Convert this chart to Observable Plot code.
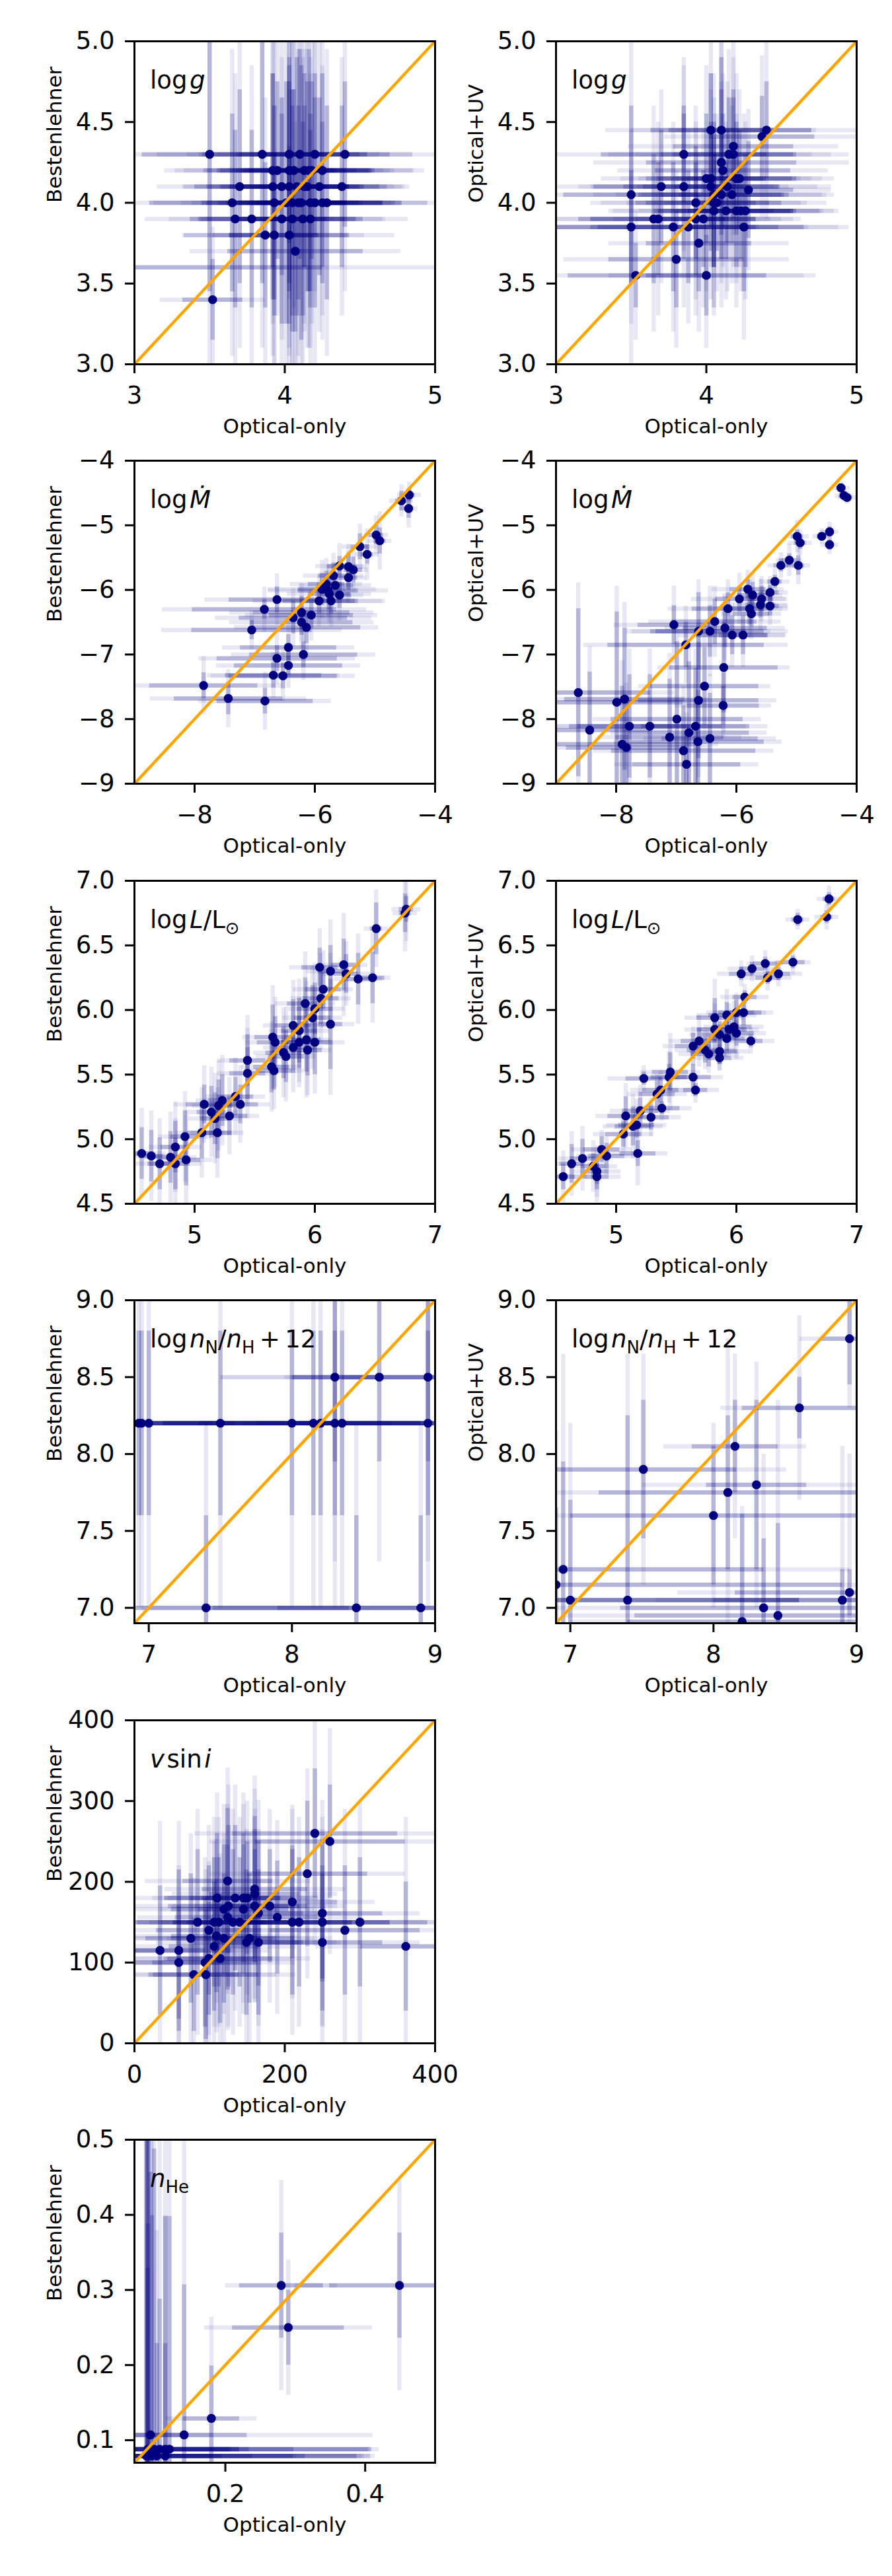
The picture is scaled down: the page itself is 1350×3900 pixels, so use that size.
<!DOCTYPE html>
<html><head><meta charset="utf-8">
<script src="https://cdn.jsdelivr.net/npm/d3@7"></script>
<script src="https://cdn.jsdelivr.net/npm/@observablehq/plot@0.6"></script>
<style>
body{margin:0;background:#fff;}
#fig{position:relative;width:1350px;height:3900px;background:#fff;font-family:"DejaVu Sans",sans-serif;}
#fig svg{position:absolute;overflow:visible;}
</style></head><body><div id="fig"></div>
<script>
// Each point: [x (Optical-only), y, xErrInner, xErrOuter, yErrInner, yErrOuter]
const loggBest = [
[3.50,4.30,0.45,0.80,0.85,1.30],[3.85,4.30,0.40,0.70,0.80,1.20],[4.03,4.30,0.35,0.60,0.55,0.90],
[4.10,4.30,0.40,0.75,0.65,1.00],[4.20,4.30,0.35,0.65,0.50,0.85],[4.40,4.30,0.30,0.60,0.45,0.85],
[3.92,4.20,0.35,0.65,0.60,0.95],[3.95,4.20,0.40,0.75,0.55,0.90],[4.03,4.20,0.30,0.55,0.70,1.10],
[4.06,4.20,0.35,0.60,0.50,0.85],[4.13,4.20,0.45,0.80,0.60,1.00],[4.16,4.20,0.40,0.70,0.75,1.10],
[4.18,4.20,0.30,0.55,0.55,0.95],[4.25,4.20,0.35,0.60,0.60,0.90],[3.70,4.10,0.30,0.55,0.60,1.00],
[3.92,4.10,0.35,0.60,0.70,1.05],[3.98,4.10,0.30,0.50,0.55,0.95],[4.03,4.10,0.40,0.70,0.65,1.05],
[4.08,4.10,0.35,0.60,0.80,1.15],[4.13,4.10,0.30,0.55,0.50,0.85],[4.15,4.10,0.35,0.65,0.65,1.00],
[4.23,4.10,0.30,0.55,0.55,0.90],[4.38,4.10,0.25,0.45,0.50,0.80],[3.65,4.00,0.55,0.85,0.55,0.95],
[3.93,4.00,0.45,0.80,0.60,1.00],[4.01,4.00,0.40,0.70,0.75,1.15],[4.05,4.00,0.35,0.60,0.70,1.10],
[4.09,4.00,0.40,0.65,0.60,0.95],[4.11,4.00,0.30,0.55,0.85,1.20],[4.17,4.00,0.35,0.60,0.55,0.90],
[4.20,4.00,0.45,0.75,0.65,1.05],[4.25,4.00,0.40,0.70,0.50,0.85],[4.28,4.00,0.50,0.90,0.60,0.95],
[3.67,3.90,0.30,0.60,0.55,0.90],[3.78,3.90,0.35,0.55,0.55,0.95],[3.98,3.90,0.30,0.50,0.65,1.00],
[4.05,3.90,0.35,0.60,0.70,1.10],[4.12,3.90,0.40,0.70,0.60,1.00],[4.17,3.90,0.30,0.50,0.55,0.90],
[3.87,3.80,0.35,0.55,0.45,0.85],[3.93,3.80,0.30,0.60,0.50,0.80],[4.03,3.80,0.40,0.70,0.55,0.90],
[4.07,3.70,0.45,0.70,0.50,0.80],[3.52,3.40,0.20,0.35,0.25,0.45],[2.75,3.60,1.50,2.40,0.30,0.60]
];
const loggUV = [
[4.03,4.45,0.40,0.70,0.35,0.60],[4.10,4.45,0.35,0.60,0.45,0.80],[4.40,4.45,0.30,0.60,0.30,0.55],
[4.37,4.41,0.35,0.65,0.25,0.50],[4.18,4.35,0.40,0.70,0.30,0.55],[3.85,4.30,0.55,0.85,0.30,0.60],
[4.15,4.30,0.45,0.80,0.35,0.65],[4.18,4.30,0.40,0.65,0.40,0.70],[4.10,4.25,0.50,0.85,0.45,0.75],
[4.11,4.20,0.45,0.70,0.35,0.60],[4.00,4.15,0.40,0.70,0.40,0.70],[4.03,4.15,0.35,0.60,0.30,0.55],
[4.20,4.15,0.40,0.65,0.35,0.65],[4.22,4.15,0.35,0.55,0.30,0.55],[3.70,4.10,0.45,0.75,0.35,0.60],
[3.85,4.10,0.40,0.70,0.45,0.75],[4.03,4.10,0.45,0.80,0.40,0.70],[4.14,4.10,0.35,0.60,0.35,0.65],
[4.28,4.08,0.30,0.55,0.30,0.50],[3.50,4.05,0.45,0.80,0.55,1.05],[4.05,4.05,0.50,0.80,0.45,0.75],
[4.10,4.05,0.40,0.70,0.40,0.70],[4.17,4.05,0.35,0.60,0.30,0.55],[3.93,4.00,0.40,0.70,0.35,0.60],
[4.05,4.00,0.45,0.75,0.40,0.65],[4.07,4.00,0.35,0.60,0.30,0.55],[4.05,3.95,0.40,0.70,0.35,0.60],
[4.13,3.95,0.45,0.75,0.30,0.55],[4.20,3.95,0.40,0.65,0.35,0.60],[4.23,3.95,0.35,0.55,0.30,0.50],
[4.26,3.95,0.30,0.50,0.35,0.55],[3.65,3.90,0.50,0.85,0.40,0.70],[3.68,3.90,0.45,0.75,0.35,0.60],
[3.93,3.90,0.40,0.70,0.35,0.60],[3.98,3.90,0.35,0.60,0.30,0.55],[3.50,3.85,0.50,0.85,0.35,0.60],
[3.78,3.85,0.55,0.90,0.40,0.65],[3.88,3.85,0.60,1.00,0.35,0.60],[4.25,3.85,0.40,0.70,0.40,0.70],
[3.95,3.75,0.35,0.60,0.30,0.55],[3.80,3.65,0.45,0.75,0.30,0.55],[3.53,3.55,0.45,1.20,0.20,0.40],
[4.00,3.55,0.40,0.65,0.25,0.45]
];
const mdotBest = [
[-4.43,-4.53,0.10,0.20,0.10,0.20],[-4.56,-4.62,0.10,0.20,0.15,0.25],[-4.44,-4.74,0.08,0.15,0.15,0.30],
[-4.98,-5.15,0.12,0.20,0.15,0.30],[-4.92,-5.24,0.10,0.20,0.20,0.45],[-5.25,-5.33,0.15,0.30,0.20,0.35],
[-5.13,-5.45,0.10,0.20,0.15,0.40],[-5.59,-5.63,0.20,0.40,0.15,0.35],[-5.44,-5.64,0.15,0.30,0.20,0.35],
[-5.36,-5.69,0.15,0.25,0.20,0.35],[-5.69,-5.78,0.25,0.50,0.20,0.35],[-5.44,-5.81,0.15,0.30,0.20,0.40],
[-5.81,-5.91,0.30,0.60,0.20,0.40],[-5.66,-5.93,0.30,0.60,0.15,0.35],[-5.88,-5.99,0.40,0.90,0.25,0.45],
[-5.78,-6.01,0.50,1.00,0.20,0.40],[-5.76,-6.06,0.35,0.70,0.25,0.45],[-5.59,-6.08,0.20,0.40,0.20,0.40],
[-5.73,-6.17,0.45,0.85,0.20,0.40],[-5.93,-6.17,0.60,1.10,0.20,0.40],[-6.63,-6.15,0.80,1.20,0.20,0.40],
[-6.84,-6.30,1.20,1.70,0.15,0.35],[-6.22,-6.35,0.80,1.20,0.25,0.45],[-6.06,-6.39,0.70,1.10,0.20,0.40],
[-6.36,-6.43,0.90,1.30,0.25,0.45],[-6.22,-6.50,0.85,1.20,0.20,0.40],[-6.14,-6.58,0.90,1.20,0.25,0.45],
[-7.05,-6.62,1.00,1.50,0.15,0.30],[-6.44,-6.89,0.80,1.10,0.20,0.40],[-6.19,-7.00,0.90,1.20,0.20,0.40],
[-6.63,-7.06,1.00,1.30,0.20,0.40],[-6.44,-7.17,0.90,1.20,0.15,0.35],[-6.69,-7.32,0.80,1.10,0.20,0.35],
[-6.53,-7.33,0.90,1.20,0.20,0.40],[-7.85,-7.48,0.90,1.30,0.20,0.45],[-7.44,-7.68,0.90,1.30,0.25,0.45],
[-6.83,-7.72,0.80,1.10,0.20,0.45]
];
const mdotUV = [
[-4.26,-4.42,0.08,0.15,0.05,0.10],[-4.21,-4.54,0.08,0.15,0.05,0.10],[-4.16,-4.57,0.08,0.15,0.05,0.10],
[-4.99,-5.17,0.10,0.20,0.10,0.25],[-4.94,-5.27,0.10,0.20,0.10,0.20],[-4.58,-5.17,0.08,0.15,0.05,0.12],
[-4.45,-5.10,0.08,0.15,0.08,0.15],[-4.45,-5.30,0.08,0.15,0.08,0.15],[-5.12,-5.54,0.12,0.22,0.10,0.25],
[-5.26,-5.62,0.12,0.22,0.10,0.20],[-4.97,-5.62,0.10,0.20,0.15,0.30],[-5.36,-5.87,0.12,0.25,0.10,0.20],
[-5.44,-6.04,0.15,0.30,0.12,0.25],[-5.81,-5.99,0.30,0.60,0.15,0.30],[-5.95,-6.14,0.40,0.80,0.20,0.40],
[-5.73,-6.08,0.25,0.50,0.20,0.35],[-5.58,-6.14,0.20,0.40,0.20,0.35],[-5.44,-6.25,0.15,0.30,0.15,0.30],
[-5.60,-6.23,0.25,0.45,0.20,0.40],[-5.78,-6.29,0.30,0.55,0.25,0.45],[-5.75,-6.37,0.30,0.50,0.20,0.40],
[-6.14,-6.29,0.60,1.00,0.25,0.45],[-6.36,-6.49,0.70,1.10,0.35,0.55],[-6.63,-6.64,0.80,1.20,0.60,0.80],
[-6.44,-6.64,0.90,1.30,0.40,0.70],[-6.19,-6.59,0.70,1.00,0.30,0.50],[-6.07,-6.70,0.60,0.90,0.30,0.50],
[-5.89,-6.70,0.40,0.70,0.30,0.50],[-7.04,-6.54,0.60,1.00,0.30,0.60],[-6.84,-6.85,1.30,1.70,0.35,0.60],
[-6.21,-7.20,0.90,1.10,0.70,1.00],[-6.53,-7.49,0.90,1.10,0.60,0.90],[-6.63,-7.71,1.00,1.30,0.90,1.20],
[-6.22,-7.79,0.60,0.80,0.30,0.50],[-8.63,-7.59,1.20,1.60,1.30,1.70],[-7.99,-7.74,1.10,1.50,1.40,1.80],
[-7.86,-7.69,1.00,1.40,1.10,1.50],[-8.44,-8.17,1.00,1.40,0.90,1.30],[-7.78,-8.11,1.00,1.30,0.80,1.20],
[-7.44,-8.11,1.20,1.60,0.80,1.20],[-6.99,-8.00,1.10,1.40,1.20,1.50],[-7.11,-8.28,0.90,1.20,0.90,1.30],
[-6.79,-8.21,1.00,1.30,1.10,1.40],[-6.68,-8.11,0.90,1.20,0.90,1.20],[-6.44,-8.30,0.80,1.10,0.70,1.00],
[-6.64,-8.35,1.10,1.40,0.80,1.10],[-7.90,-8.39,1.20,1.60,0.90,1.30],[-7.83,-8.44,1.00,1.40,0.70,1.00],
[-6.88,-8.49,1.20,1.50,0.70,1.00],[-6.83,-8.70,0.90,1.20,0.50,0.80]
];
const lumBest = [
[6.76,6.78,0.06,0.12,0.10,0.25],[6.75,6.75,0.05,0.10,0.15,0.30],[6.51,6.63,0.05,0.10,0.20,0.30],
[6.04,6.33,0.15,0.25,0.15,0.30],[6.13,6.30,0.10,0.20,0.20,0.40],[6.24,6.35,0.10,0.20,0.20,0.40],
[6.26,6.28,0.10,0.20,0.15,0.25],[6.36,6.24,0.10,0.20,0.20,0.35],[6.48,6.25,0.10,0.15,0.20,0.35],
[6.07,6.16,0.15,0.25,0.15,0.30],[6.05,6.09,0.15,0.25,0.20,0.35],[5.92,6.05,0.15,0.25,0.20,0.40],
[6.00,6.01,0.15,0.25,0.20,0.35],[5.98,5.94,0.15,0.25,0.25,0.40],[6.13,5.89,0.10,0.20,0.35,0.55],
[5.82,5.88,0.15,0.25,0.20,0.35],[5.87,5.84,0.15,0.25,0.25,0.40],[5.65,5.79,0.15,0.25,0.25,0.40],
[5.67,5.75,0.15,0.25,0.20,0.35],[5.93,5.77,0.12,0.20,0.25,0.45],[5.87,5.75,0.15,0.25,0.20,0.35],
[6.00,5.75,0.15,0.25,0.25,0.40],[5.82,5.71,0.15,0.25,0.20,0.35],[5.94,5.69,0.12,0.20,0.20,0.35],
[5.74,5.67,0.15,0.25,0.20,0.35],[5.76,5.64,0.15,0.25,0.20,0.35],[5.44,5.61,0.15,0.25,0.20,0.35],
[5.64,5.56,0.15,0.25,0.20,0.35],[5.66,5.53,0.15,0.25,0.15,0.30],[5.44,5.51,0.15,0.25,0.20,0.35],
[5.34,5.33,0.15,0.25,0.15,0.30],[5.38,5.27,0.15,0.25,0.15,0.30],[5.23,5.30,0.12,0.22,0.20,0.35],
[5.08,5.27,0.15,0.25,0.15,0.30],[5.14,5.21,0.12,0.22,0.20,0.35],[5.20,5.26,0.12,0.22,0.20,0.35],
[5.29,5.18,0.15,0.25,0.15,0.30],[5.17,5.16,0.12,0.22,0.20,0.35],[5.06,5.05,0.12,0.22,0.20,0.35],
[5.19,5.05,0.12,0.22,0.20,0.35],[4.92,5.02,0.12,0.22,0.20,0.35],[4.84,4.94,0.12,0.22,0.20,0.35],
[4.56,4.89,0.10,0.20,0.20,0.35],[4.64,4.87,0.10,0.20,0.20,0.35],[4.71,4.81,0.10,0.20,0.20,0.35],
[4.80,4.86,0.12,0.22,0.20,0.35],[4.84,4.81,0.12,0.22,0.20,0.35],[4.93,4.84,0.12,0.22,0.20,0.35]
];
const lumUV = [
[6.77,6.86,0.05,0.10,0.05,0.10],[6.75,6.72,0.05,0.10,0.05,0.10],[6.51,6.70,0.05,0.10,0.05,0.08],
[6.24,6.36,0.10,0.15,0.05,0.10],[6.13,6.32,0.10,0.20,0.05,0.10],[6.04,6.28,0.10,0.20,0.05,0.10],
[6.35,6.28,0.10,0.20,0.05,0.10],[6.47,6.37,0.10,0.15,0.05,0.10],[6.26,6.25,0.10,0.20,0.05,0.10],
[6.07,6.10,0.10,0.20,0.05,0.10],[6.00,5.98,0.15,0.25,0.10,0.15],[6.06,5.98,0.15,0.25,0.10,0.15],
[5.92,5.96,0.15,0.25,0.10,0.20],[5.82,5.94,0.15,0.25,0.15,0.30],[5.98,5.87,0.15,0.25,0.10,0.20],
[5.82,5.85,0.15,0.25,0.10,0.20],[5.94,5.85,0.15,0.25,0.10,0.20],[6.00,5.82,0.15,0.25,0.10,0.20],
[5.86,5.81,0.15,0.25,0.10,0.15],[5.92,5.78,0.15,0.25,0.10,0.15],[6.12,5.76,0.10,0.20,0.05,0.10],
[5.69,5.76,0.15,0.25,0.10,0.20],[5.64,5.72,0.15,0.25,0.10,0.15],[5.74,5.69,0.15,0.25,0.10,0.15],
[5.77,5.66,0.15,0.25,0.10,0.15],[5.86,5.68,0.15,0.25,0.10,0.15],[5.86,5.63,0.10,0.20,0.05,0.10],
[5.23,5.47,0.15,0.30,0.05,0.10],[5.45,5.52,0.15,0.25,0.15,0.30],[5.44,5.48,0.15,0.25,0.10,0.20],
[5.64,5.48,0.15,0.25,0.10,0.15],[5.66,5.38,0.10,0.20,0.05,0.10],[5.37,5.38,0.15,0.25,0.10,0.15],
[5.34,5.35,0.15,0.25,0.10,0.15],[5.38,5.24,0.15,0.25,0.05,0.10],[5.20,5.22,0.15,0.25,0.10,0.20],
[5.08,5.18,0.15,0.25,0.15,0.25],[5.29,5.17,0.15,0.25,0.10,0.15],[5.14,5.10,0.15,0.25,0.15,0.25],
[5.17,5.11,0.15,0.25,0.10,0.20],[5.06,5.04,0.15,0.25,0.10,0.15],[5.18,4.89,0.15,0.25,0.10,0.25],
[4.88,4.92,0.15,0.25,0.10,0.15],[4.92,4.87,0.15,0.25,0.10,0.15],[4.72,4.85,0.10,0.20,0.15,0.25],
[4.63,4.81,0.10,0.20,0.15,0.25],[4.81,4.79,0.10,0.20,0.10,0.20],[4.84,4.75,0.10,0.20,0.10,0.20],
[4.84,4.71,0.10,0.20,0.10,0.20],[4.56,4.71,0.10,0.20,0.10,0.20]
];
const nitroBest = [
[6.93,8.2,0.6,1.0,0.6,1.2],[6.95,8.2,0.5,1.0,0.6,1.2],[7.00,8.2,0.6,1.2,0.6,1.2],
[7.50,8.2,0.8,1.2,0.6,1.2],[8.00,8.2,0.9,1.3,0.6,1.2],[8.15,8.2,0.8,1.2,0.6,1.2],
[8.20,8.2,0.7,1.1,0.6,1.2],[8.30,8.2,0.8,1.2,0.6,1.2],[8.35,8.2,0.6,1.0,0.6,1.2],
[8.95,8.2,0.9,1.3,0.6,1.2],[8.30,8.5,0.3,0.8,0.55,1.2],[8.61,8.5,0.6,1.1,0.55,1.2],
[8.95,8.5,0.6,1.0,0.55,1.2],[7.40,7.0,1.0,1.5,0.6,1.2],[8.45,7.0,1.0,1.5,0.6,1.2],
[8.90,7.0,1.0,1.5,0.6,1.2]
];
const nitroUV = [
[8.95,8.75,0.20,0.35,0.30,0.45],[8.60,8.30,0.40,0.55,0.20,0.60],[8.15,8.05,0.30,0.50,0.30,0.60],
[7.51,7.90,0.65,1.00,0.45,0.75],[8.30,7.80,0.35,0.80,0.55,0.80],[8.10,7.75,0.90,1.20,0.50,1.00],
[8.00,7.60,1.00,1.30,0.45,0.60],[6.95,7.25,1.40,2.00,0.70,1.40],[6.90,7.15,2.00,2.50,0.50,1.00],
[7.00,7.05,1.60,2.00,0.65,1.15],[7.40,7.05,1.20,1.60,1.20,1.60],[8.35,7.00,1.00,1.50,0.45,1.00],
[8.45,6.95,1.00,1.50,0.60,1.40],[8.20,6.91,0.80,1.20,0.70,0.75],[8.90,7.05,0.90,1.30,0.20,1.00],
[8.95,7.10,0.80,1.20,0.15,0.90]
];
const vsiniBest = [
[240,260,110,160,80,140],[260,250,100,160,70,140],[230,210,80,130,90,130],[124,201,60,110,90,140],
[160,191,70,120,90,140],[160,185,60,110,80,130],[110,180,70,120,80,130],[134,180,60,110,90,140],
[145,180,50,100,80,130],[150,180,60,110,70,120],[210,175,60,110,70,120],[125,170,80,130,100,150],
[160,170,60,110,70,120],[180,170,50,100,70,120],[119,166,70,120,80,130],[145,166,60,110,80,130],
[165,161,60,110,90,140],[250,161,80,130,85,140],[190,156,60,110,70,120],[124,156,70,120,90,140],
[84,150,80,130,90,140],[106,150,70,120,80,130],[112,150,60,110,80,130],[131,150,80,130,90,140],
[140,150,70,120,80,130],[210,150,80,130,90,140],[219,150,70,120,80,130],[250,150,90,150,70,130],
[300,150,90,150,80,150],[99,140,70,120,80,130],[280,140,100,160,80,150],[75,130,60,110,80,130],
[109,133,60,110,70,120],[119,130,70,120,80,130],[153,130,60,110,80,130],[149,125,70,120,90,140],
[165,125,60,110,90,140],[250,125,80,130,85,140],[106,120,60,110,80,130],[361,120,60,120,80,160],
[34,115,60,100,80,160],[59,115,70,120,100,160],[59,100,60,110,70,120],[94,100,70,120,80,130],
[99,105,60,110,70,120],[114,105,70,120,80,130],[79,85,60,110,70,120],[95,85,70,120,80,130]
];
const heliumBest = [
[0.280,0.306,0.060,0.080,0.070,0.140],[0.449,0.306,0.100,0.150,0.070,0.140],
[0.290,0.250,0.080,0.120,0.050,0.090],[0.180,0.129,0.040,0.065,0.070,0.135],
[0.141,0.107,0.090,0.270,0.200,0.400],[0.093,0.107,0.050,0.090,0.350,0.450],
[0.089,0.088,0.120,0.320,0.300,0.420],[0.095,0.079,0.100,0.300,0.320,0.450],
[0.089,0.079,0.150,0.310,0.250,0.420],[0.102,0.079,0.080,0.200,0.150,0.300],
[0.106,0.088,0.100,0.300,0.200,0.420],[0.114,0.088,0.120,0.290,0.310,0.420],
[0.114,0.079,0.200,0.300,0.150,0.320],[0.120,0.088,0.100,0.290,0.310,0.420],
[0.098,0.088,0.200,0.310,0.400,0.420],[0.087,0.079,0.210,0.320,0.420,0.450],
[0.088,0.079,0.300,0.320,0.420,0.450],[0.090,0.088,0.130,0.330,0.420,0.450]
];

// axis domains and ticks
const loggDomain = [3, 5], loggXTicks = [3, 4, 5], loggYTicks = [3.0, 3.5, 4.0, 4.5, 5.0];
const mdotDomain = [-9, -4], mdotXTicks = [-8, -6, -4], mdotYTicks = [-9, -8, -7, -6, -5, -4];
const lumDomain = [4.5, 7], lumXTicks = [5, 6, 7], lumYTicks = [4.5, 5.0, 5.5, 6.0, 6.5, 7.0];
const nitroDomain = [6.9, 9], nitroXTicks = [7, 8, 9], nitroYTicks = [7.0, 7.5, 8.0, 8.5, 9.0];
const vsiniDomain = [0, 400], vsiniXTicks = [0, 200, 400], vsiniYTicks = [0, 100, 200, 300, 400];
const heliumDomain = [0.07, 0.5], heliumXTicks = [0.2, 0.4], heliumYTicks = [0.1, 0.2, 0.3, 0.4, 0.5];

const xLabel = "Optical-only";
const yLabels = ["Bestenlehner", "Optical+UV"];

const hs = "\u200A";
const f0 = d3.format("d"), f1 = d3.format(".1f");
const panels = [
  {row:0,col:0,data:loggBest,dom:loggDomain,xt:loggXTicks,yt:loggYTicks,xf:f0,yf:f1,ann:[["log"+hs],["g","i"]]},
  {row:0,col:1,data:loggUV,dom:loggDomain,xt:loggXTicks,yt:loggYTicks,xf:f0,yf:f1,ann:[["log"+hs],["g","i"]]},
  {row:1,col:0,data:mdotBest,dom:mdotDomain,xt:mdotXTicks,yt:mdotYTicks,xf:f0,yf:f0,ann:[["log"+hs],["\u1E40","i"]]},
  {row:1,col:1,data:mdotUV,dom:mdotDomain,xt:mdotXTicks,yt:mdotYTicks,xf:f0,yf:f0,ann:[["log"+hs],["\u1E40","i"]]},
  {row:2,col:0,data:lumBest,dom:lumDomain,xt:lumXTicks,yt:lumYTicks,xf:f0,yf:f1,ann:[["log"+hs],["L","i"],["/L"],["\u2299","s"]]},
  {row:2,col:1,data:lumUV,dom:lumDomain,xt:lumXTicks,yt:lumYTicks,xf:f0,yf:f1,ann:[["log"+hs],["L","i"],["/L"],["\u2299","s"]]},
  {row:3,col:0,data:nitroBest,dom:nitroDomain,xt:nitroXTicks,yt:nitroYTicks,xf:f0,yf:f1,ann:[["log"+hs],["n","i"],["N","s"],["/"],["n","i"],["H","s"],["\u2009+\u200912"]]},
  {row:3,col:1,data:nitroUV,dom:nitroDomain,xt:nitroXTicks,yt:nitroYTicks,xf:f0,yf:f1,ann:[["log"+hs],["n","i"],["N","s"],["/"],["n","i"],["H","s"],["\u2009+\u200912"]]},
  {row:4,col:0,data:vsiniBest,dom:vsiniDomain,xt:vsiniXTicks,yt:vsiniYTicks,xf:f0,yf:f0,ann:[["v","i"],[hs+"sin"+hs],["i","i"]]},
  {row:5,col:0,data:heliumBest,dom:heliumDomain,xt:heliumXTicks,yt:heliumYTicks,xf:f1,yf:f1,ann:[["n","i"],["He","s"]]}
];

const W = 675, H = 635, ML = 203, MT = 62, FW = 455, FH = 489;
const rowTop = [62, 697.4, 1332.8, 1968.2, 2603.6, 3239];
const colLeft = [203, 840.6];
const navy = "#000080";
const font = "'DejaVu Sans', sans-serif";
const fig = document.getElementById("fig");

for (const p of panels) {
  const X = d => d[0], Y = d => d[1];
  const svg = Plot.plot({
    width: W, height: H,
    marginLeft: ML, marginRight: W - ML - FW, marginTop: MT, marginBottom: H - MT - FH,
    style: {fontFamily: font, background: "transparent", overflow: "visible", fontSize: "37px"},
    x: {domain: p.dom},
    y: {domain: p.dom},
    marks: [
      Plot.ruleY(p.data, {y: Y, x1: d => d[0] - d[3], x2: d => d[0] + d[3], stroke: navy, strokeOpacity: 0.09, strokeWidth: 6.5, clip: true}),
      Plot.ruleX(p.data, {x: X, y1: d => d[1] - d[5], y2: d => d[1] + d[5], stroke: navy, strokeOpacity: 0.09, strokeWidth: 6.5, clip: true}),
      Plot.ruleY(p.data, {y: Y, x1: d => d[0] - d[2], x2: d => d[0] + d[2], stroke: navy, strokeOpacity: 0.22, strokeWidth: 6.5, clip: true}),
      Plot.ruleX(p.data, {x: X, y1: d => d[1] - d[4], y2: d => d[1] + d[4], stroke: navy, strokeOpacity: 0.22, strokeWidth: 6.5, clip: true}),
      Plot.dot(p.data, {x: X, y: Y, r: 6.8, fill: navy, stroke: "none", clip: true}),
      Plot.line(p.dom, {x: d => d, y: d => d, stroke: "orange", strokeWidth: 4.5, clip: true}),
      Plot.frame({stroke: "black", strokeWidth: 3}),
      Plot.axisX({ticks: p.xt, tickFormat: p.xf, tickSize: 14, tickPadding: 19, fontSize: 37, strokeWidth: 3, label: null}),
      Plot.axisY({ticks: p.yt, tickFormat: p.yf, tickSize: 14, tickPadding: 16, fontSize: 37, strokeWidth: 3, label: null}),
      Plot.text([xLabel], {text: d => d, frameAnchor: "bottom", dy: 104, fontSize: 31}),
      Plot.text([yLabels[p.col]], {text: d => d, frameAnchor: "left", dx: -120, rotate: -90, fontSize: 31})
    ]
  });
  // panel annotation with mathematical styling (real text, tspans)
  const t = d3.select(svg).append("text")
    .attr("x", ML + 24).attr("y", MT + 72)
    .attr("text-anchor", "start")
    .attr("font-size", 37).attr("fill", "black").style("font-family", font);
  let shift = 0;
  for (const [s, kind] of p.ann) {
    const ts = t.append("tspan").text(s);
    const want = kind === "s" ? 9 : 0;
    if (want !== shift) { ts.attr("dy", want - shift); shift = want; }
    if (kind === "i") ts.attr("font-style", "italic");
    if (kind === "s") ts.attr("font-size", 26);
  }
  svg.style.position = "absolute";
  svg.style.left = (colLeft[p.col] - ML) + "px";
  svg.style.top = (rowTop[p.row] - MT) + "px";
  fig.appendChild(svg);
}
</script>
</body></html>
